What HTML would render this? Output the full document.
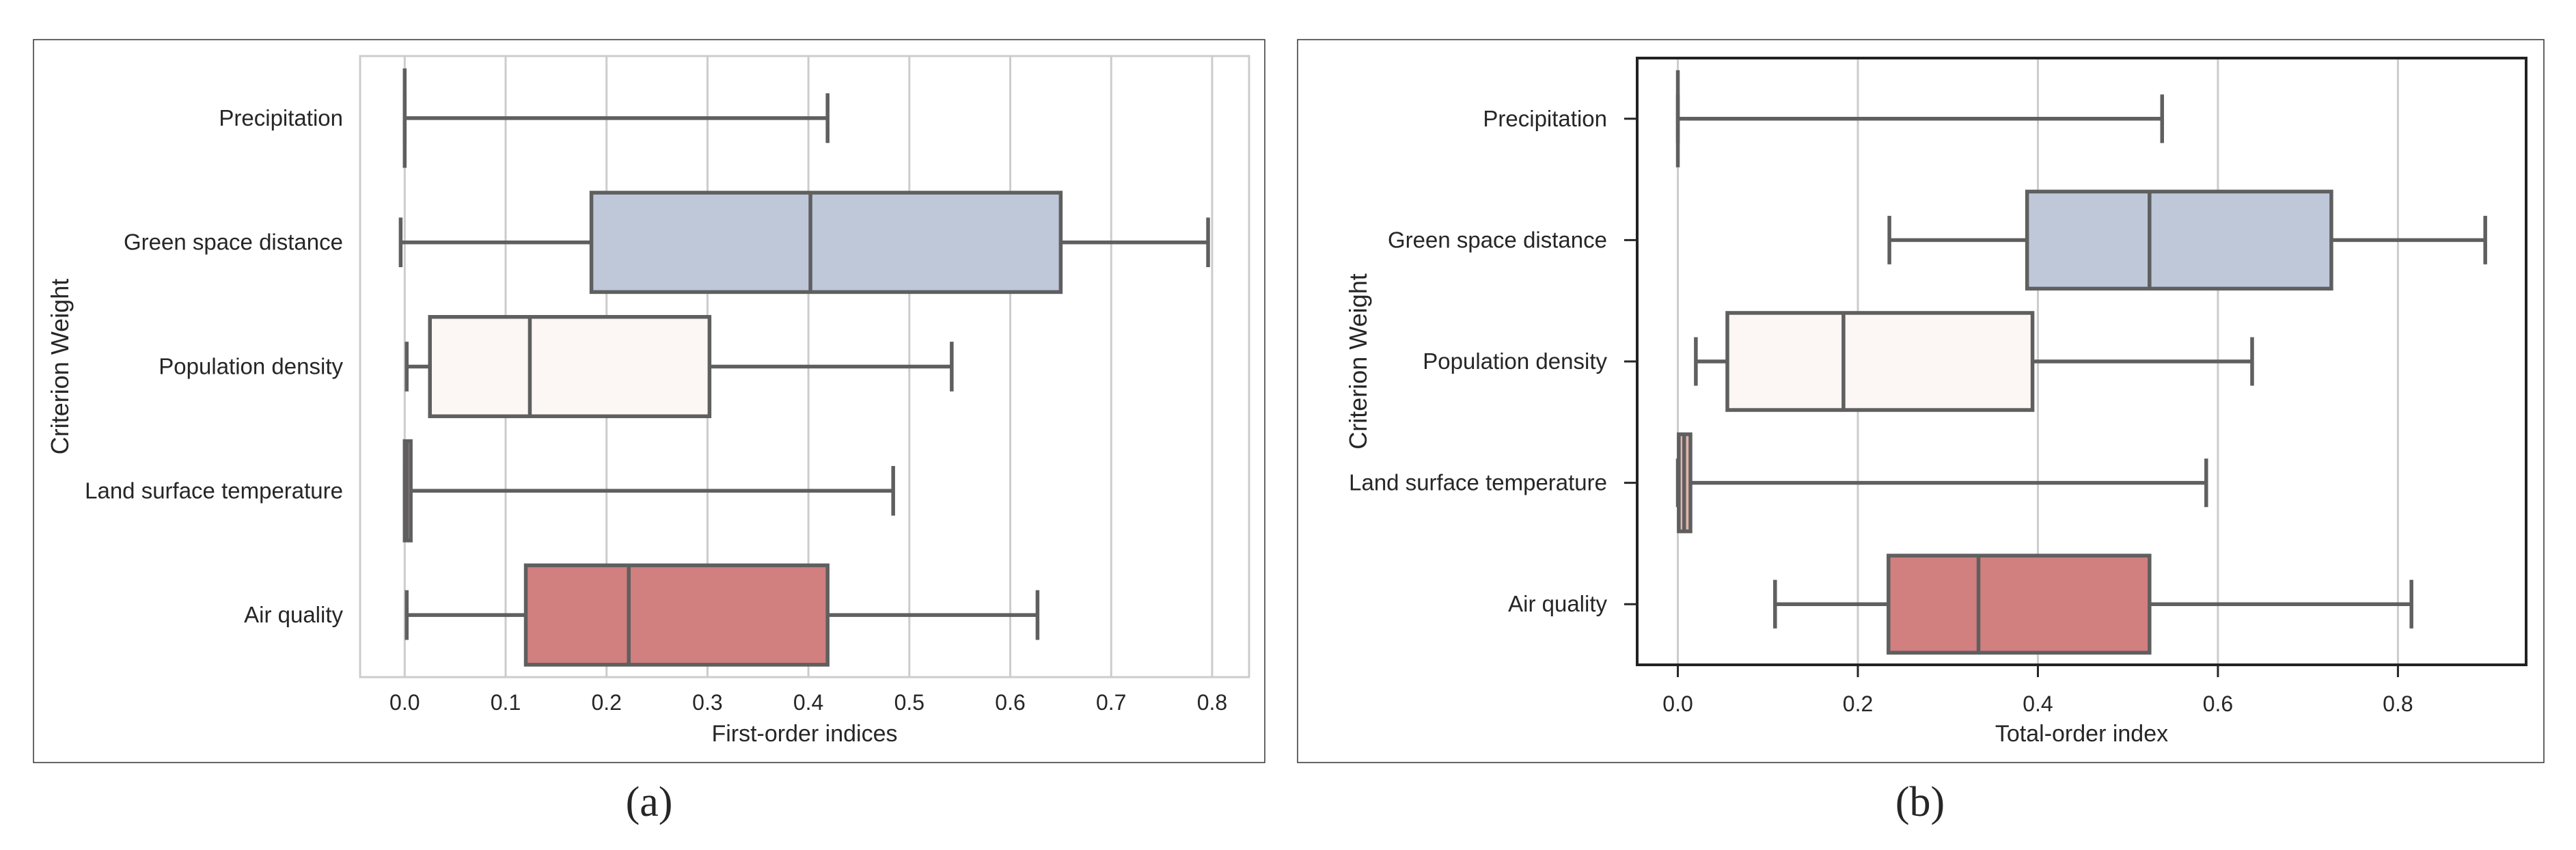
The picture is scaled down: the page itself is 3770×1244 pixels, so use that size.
<!DOCTYPE html>
<html><head><meta charset="utf-8"><style>
html,body{margin:0;padding:0;background:#fff;}
svg{display:block;}
text{font-family:"Liberation Sans",Arial,sans-serif;fill:#262626;}
</style></head><body>
<svg id="fig" width="3770" height="1244" viewBox="0 0 3770 1244" xmlns="http://www.w3.org/2000/svg">
<rect x="0" y="0" width="3770" height="1244" fill="#fff"/>
<rect x="49" y="58" width="1802" height="1058" fill="none" stroke="#333" stroke-width="1.5"/>
<rect x="1899" y="58" width="1824" height="1058" fill="none" stroke="#333" stroke-width="1.5"/>
<g id="pa"></g>
<g id="pb"></g>
<text x="950" y="1194" text-anchor="middle" style="font-family:'Liberation Serif',serif;font-size:62px;">(a)</text>
<text x="2810" y="1194" text-anchor="middle" style="font-family:'Liberation Serif',serif;font-size:62px;">(b)</text>
</svg>
<script>
const categories = ["Precipitation","Green space distance","Population density","Land surface temperature","Air quality"];
const boxColors = ["#d9d9d9","#bec8d9","#fcf6f4","#e2b4ae","#d27f7f"];
// panel a: first-order indices
const aLow  = [0.0, -0.004, 0.002, 0.0, 0.002];
const aQ1   = [0.0, 0.185, 0.025, 0.0, 0.120];
const aMed  = [0.0, 0.402, 0.124, 0.002, 0.222];
const aQ3   = [0.0, 0.650, 0.302, 0.006, 0.419];
const aHigh = [0.419, 0.796, 0.542, 0.484, 0.627];
const aTicks = [0.0,0.1,0.2,0.3,0.4,0.5,0.6,0.7,0.8];
const aTickLabels = ["0.0","0.1","0.2","0.3","0.4","0.5","0.6","0.7","0.8"];
// panel b: total-order index
const bLow  = [0.0, 0.235, 0.020, 0.0, 0.108];
const bQ1   = [0.0, 0.388, 0.055, 0.001, 0.234];
const bMed  = [0.0, 0.524, 0.184, 0.007, 0.334];
const bQ3   = [0.0, 0.726, 0.394, 0.014, 0.524];
const bHigh = [0.538, 0.897, 0.638, 0.587, 0.815];
const bTicks = [0.0,0.2,0.4,0.6,0.8];
const bTickLabels = ["0.0","0.2","0.4","0.6","0.8"];

const NS="http://www.w3.org/2000/svg";
function mk(parent,tag,attrs){const e=document.createElementNS(NS,tag);for(const k in attrs)e.setAttribute(k,attrs[k]);parent.appendChild(e);return e;}

function drawPanel(g,cfg){
  const xs=v=>cfg.left+(v-cfg.xmin)/(cfg.xmax-cfg.xmin)*(cfg.right-cfg.left);
  const step=(cfg.bottom-cfg.top)/categories.length;
  const ys=i=>cfg.top+step*(i+0.5);
  // grid
  cfg.ticks.forEach((t,i)=>{
    const l=mk(g,'line',{x1:xs(t),x2:xs(t),y1:cfg.top,y2:cfg.bottom,stroke:'#cccccc','stroke-width':3});
    
    
    if(cfg.outerTicks){
      const tk=mk(g,'line',{x1:xs(t),x2:xs(t),y1:cfg.bottom,y2:cfg.bottom+18,stroke:'#262626','stroke-width':3});
      
      
    }
    const tx=mk(g,'text',{x:xs(t),y:cfg.tickY,'text-anchor':'middle','font-size':32});
    tx.textContent=cfg.tickLabels[i];
    
    
  });
  // frame
  const fr=mk(g,'rect',{x:cfg.left,y:cfg.top,width:cfg.right-cfg.left,height:cfg.bottom-cfg.top,fill:'none',stroke:cfg.frameColor,'stroke-width':cfg.frameW});
  
  
  const bh=step*0.8, ch=step*0.4, lc='#5f5f5f', lw=5.5;
  categories.forEach((c,i)=>{
    const y=ys(i);
    if(cfg.outerTicks){
      const tk=mk(g,'line',{x1:cfg.left-19,x2:cfg.left,y1:y,y2:y,stroke:'#262626','stroke-width':3});
      
      
    }
    const lab=mk(g,'text',{x:cfg.labelX,y:y+11,'text-anchor':'end','font-size':33});
    lab.textContent=c;
    
    
    const grp=mk(g,'g',{});
    
    
    mk(grp,'line',{x1:xs(cfg.low[i]),x2:xs(cfg.q1[i]),y1:y,y2:y,stroke:lc,'stroke-width':lw});
    mk(grp,'line',{x1:xs(cfg.q3[i]),x2:xs(cfg.high[i]),y1:y,y2:y,stroke:lc,'stroke-width':lw});
    mk(grp,'line',{x1:xs(cfg.low[i]),x2:xs(cfg.low[i]),y1:y-ch/2,y2:y+ch/2,stroke:lc,'stroke-width':lw});
    mk(grp,'line',{x1:xs(cfg.high[i]),x2:xs(cfg.high[i]),y1:y-ch/2,y2:y+ch/2,stroke:lc,'stroke-width':lw});
    mk(grp,'rect',{x:xs(cfg.q1[i]),y:y-bh/2,width:Math.max(0,xs(cfg.q3[i])-xs(cfg.q1[i])),height:bh,fill:boxColors[i],stroke:lc,'stroke-width':lw});
    mk(grp,'line',{x1:xs(cfg.med[i]),x2:xs(cfg.med[i]),y1:y-bh/2,y2:y+bh/2,stroke:lc,'stroke-width':lw});
  });
  const xt=mk(g,'text',{x:(cfg.left+cfg.right)/2,y:1085,'text-anchor':'middle','font-size':34});
  xt.textContent=cfg.xTitle;
  
  
  const yt=mk(g,'text',{x:0,y:0,'text-anchor':'middle','font-size':36,transform:`translate(${cfg.yTitleX},${(cfg.top+cfg.bottom)/2}) rotate(-90)`});
  yt.textContent='Criterion Weight';
  
  
}
drawPanel(document.getElementById('pa'),{left:527,right:1828,top:82,bottom:991,xmin:-0.0442,xmax:0.8366,
  ticks:aTicks,tickLabels:aTickLabels,low:aLow,q1:aQ1,med:aMed,q3:aQ3,high:aHigh,
  frameColor:'#cccccc',frameW:3,outerTicks:false,labelX:502,tickY:1039,xTitle:'First-order indices',yTitleX:100});
drawPanel(document.getElementById('pb'),{left:2396,right:3697,top:85,bottom:973,xmin:-0.0452,xmax:0.9424,
  ticks:bTicks,tickLabels:bTickLabels,low:bLow,q1:bQ1,med:bMed,q3:bQ3,high:bHigh,
  frameColor:'#222222',frameW:4,outerTicks:true,labelX:2352,tickY:1041,xTitle:'Total-order index',yTitleX:2000});
</script>
</body></html>
